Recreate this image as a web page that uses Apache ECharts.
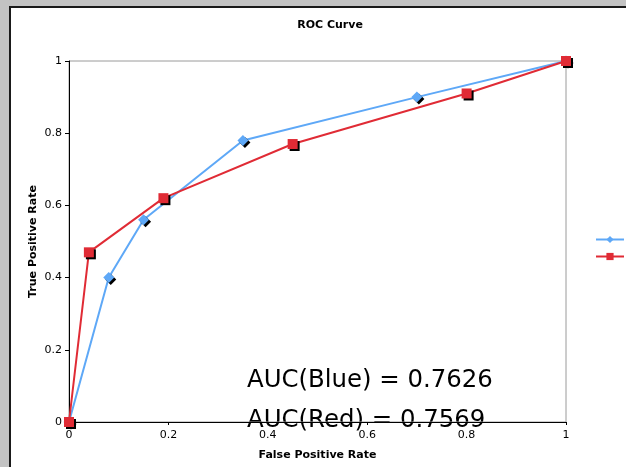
<!DOCTYPE html>
<html>
<head>
<meta charset="utf-8">
<script src="https://cdn.jsdelivr.net/npm/echarts@6/dist/echarts.min.js"></script>
<style>
  html, body { margin: 0; padding: 0; background: #c3c3c3; }
  #chart { width: 626px; height: 467px; }
</style>
</head>
<body>
<div id="chart"></div>
<script>
// ROC points (false positive rate, true positive rate) for two classifiers
const fprA = [0, 0.08, 0.15, 0.35, 0.70, 1];
const tprA = [0, 0.40, 0.56, 0.78, 0.90, 1];
const fprB = [0, 0.04, 0.19, 0.45, 0.80, 1];
const tprB = [0, 0.47, 0.62, 0.77, 0.91, 1];
const seriesNames = ['A', 'B'];
const aucLabels = ['AUC(Blue) = 0.7626', 'AUC(Red) = 0.7569'];

const FONT = '"DejaVu Sans", Verdana, sans-serif';
const toPairs = (xs, ys) => xs.map((x, i) => [x, ys[i]]);

const chart = echarts.init(document.getElementById('chart'));
chart.setOption({
  backgroundColor: '#c3c3c3',
  animation: false,
  title: {
    text: 'ROC Curve',
    left: 325,
    top: 15,
    textAlign: 'center',
    textStyle: { fontFamily: FONT, fontSize: 11, fontWeight: 'bold', color: '#000' }
  },
  legend: {
    orient: 'vertical',
    left: 590,
    top: 229,
    itemWidth: 28,
    itemHeight: 9,
    itemGap: 6,
    textStyle: { fontFamily: FONT, fontSize: 11, color: '#000' },
    data: seriesNames
  },
  grid: {
    left: 69, top: 61, right: 60, bottom: 45,
    show: true,
    borderColor: '#9a9a9a',
    borderWidth: 1
  },
  xAxis: {
    type: 'value',
    min: 0, max: 1, interval: 0.2,
    name: 'False Positive Rate',
    nameLocation: 'middle',
    nameGap: 28,
    nameMoveOverlap: false,
    nameTextStyle: { fontFamily: FONT, fontSize: 11, fontWeight: 'bold', color: '#000' },
    axisLine: { lineStyle: { color: '#000', width: 1 } },
    axisTick: { length: 3, lineStyle: { color: '#000' } },
    axisLabel: { fontFamily: FONT, fontSize: 11, color: '#000', margin: 8 },
    splitLine: { show: false }
  },
  yAxis: {
    type: 'value',
    min: 0, max: 1, interval: 0.2,
    name: 'True Positive Rate',
    nameLocation: 'middle',
    nameGap: 30,
    nameMoveOverlap: false,
    nameTextStyle: { fontFamily: FONT, fontSize: 11, fontWeight: 'bold', color: '#000' },
    axisLine: { lineStyle: { color: '#000', width: 1 } },
    axisTick: { length: 4, lineStyle: { color: '#000' } },
    axisLabel: { fontFamily: FONT, fontSize: 11, color: '#000', margin: 7 },
    splitLine: { show: false }
  },
  graphic: [
    {
      type: 'rect',
      z: -100,
      shape: { x: 10, y: 7, width: 700, height: 600 },
      style: { fill: '#fff', stroke: '#1a1a1a', lineWidth: 2 }
    },
    {
      type: 'text',
      z: -50,
      left: 247, top: 369,
      style: { text: aucLabels[0], font: '24.4px ' + FONT, fill: '#000' }
    },
    {
      type: 'text',
      z: -50,
      left: 247, top: 409,
      style: { text: aucLabels[1], font: '24.4px ' + FONT, fill: '#000' }
    }
  ],
  series: [
    {
      name: seriesNames[0],
      type: 'line',
      data: toPairs(fprA, tprA),
      symbol: 'diamond',
      symbolSize: 11,
      lineStyle: { color: '#5ea8f7', width: 2 },
      itemStyle: { color: '#5ea8f7', shadowColor: '#000', shadowBlur: 0, shadowOffsetX: 2, shadowOffsetY: 2 }
    },
    {
      name: seriesNames[1],
      type: 'line',
      data: toPairs(fprB, tprB),
      symbol: 'rect',
      symbolSize: 10,
      lineStyle: { color: '#e02b35', width: 2 },
      itemStyle: { color: '#e02b35', shadowColor: '#000', shadowBlur: 0, shadowOffsetX: 2, shadowOffsetY: 2 }
    }
  ]
});
</script>
</body>
</html>
